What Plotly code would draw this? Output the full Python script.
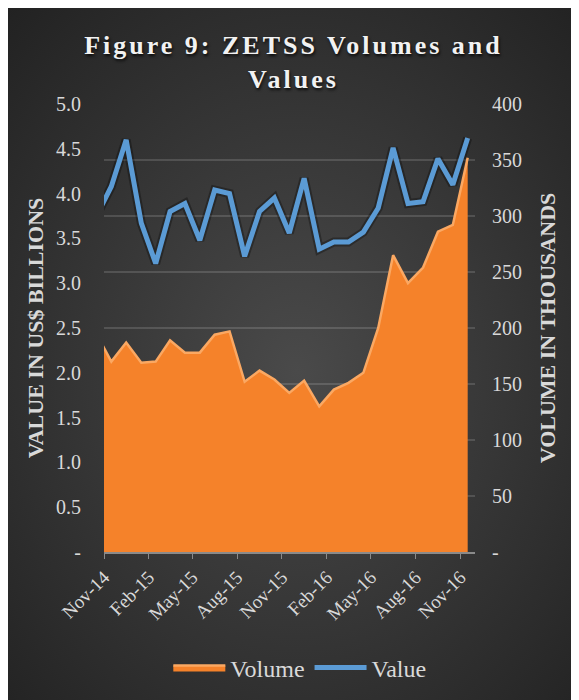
import base64
import plotly.graph_objects as go

# ---------------- data ----------------
months = ["2014-10-01", "2014-11-01", "2014-12-01", "2015-01-01", "2015-02-01", "2015-03-01",
          "2015-04-01", "2015-05-01", "2015-06-01", "2015-07-01", "2015-08-01", "2015-09-01",
          "2015-10-01", "2015-11-01", "2015-12-01", "2016-01-01", "2016-02-01", "2016-03-01",
          "2016-04-01", "2016-05-01", "2016-06-01", "2016-07-01", "2016-08-01", "2016-09-01",
          "2016-10-01", "2016-11-01"]
volume_thousands = [195, 170, 187, 169, 170, 189, 178, 178, 194, 197, 152, 162, 154,
                    142, 153, 130, 145, 151, 160, 200, 265, 240, 254, 286, 292, 352]
value_billions = [3.75, 4.08, 4.60, 3.67, 3.22, 3.80, 3.89, 3.48, 4.04, 4.00, 3.30, 3.80, 3.95,
                  3.56, 4.17, 3.38, 3.46, 3.46, 3.57, 3.84, 4.51, 3.89, 3.91, 4.39, 4.10, 4.62]

x_tick_dates = ["2014-11-01", "2015-02-01", "2015-05-01", "2015-08-01", "2015-11-01",
                "2016-02-01", "2016-05-01", "2016-08-01", "2016-11-01"]
x_tick_labels = ["Nov-14", "Feb-15", "May-15", "Aug-15", "Nov-15",
                 "Feb-16", "May-16", "Aug-16", "Nov-16"]
value_ticks = [0, 0.5, 1.0, 1.5, 2.0, 2.5, 3.0, 3.5, 4.0, 4.5, 5.0]
value_tick_labels = ["-", "0.5", "1.0", "1.5", "2.0", "2.5", "3.0", "3.5", "4.0", "4.5", "5.0"]
volume_ticks = [0, 50, 100, 150, 200, 250, 300, 350, 400]
volume_tick_labels = ["-", "50", "100", "150", "200", "250", "300", "350", "400"]

FONT = "Liberation Serif"
TXT = "#d9d9d9"

fig = go.Figure()

# Volume area (main y axis, on the right)
fig.add_trace(go.Scatter(
    x=months, y=volume_thousands, name="Volume", mode="lines",
    xperiod="M1", xperiodalignment="middle",
    fill="tozeroy", fillcolor="#F5822A",
    line=dict(color="#FBA862", width=2.5),
    yaxis="y", hoverinfo="skip",
))

# Value line shadow (no legend)
fig.add_trace(go.Scatter(
    x=months, y=value_billions, mode="lines", showlegend=False,
    xperiod="M1", xperiodalignment="middle",
    line=dict(color="rgba(0,0,0,0.30)", width=9),
    yaxis="y2", hoverinfo="skip",
))
# Value line
fig.add_trace(go.Scatter(
    x=months, y=value_billions, name="Value", mode="lines",
    xperiod="M1", xperiodalignment="middle",
    line=dict(color="#5B9BD5", width=5),
    yaxis="y2",
))

W, H = 579, 700
L, R, T, B = 96, 112, 96, 156
pw, ph = W - L - R, H - T - B

# background radial gradient covering the whole figure
svg = ('<svg xmlns="http://www.w3.org/2000/svg" width="%d" height="%d">'
       '<defs><radialGradient id="g" cx="50%%" cy="52%%" r="72%%">'
       '<stop offset="0%%" stop-color="#4a4a4a"/>'
       '<stop offset="100%%" stop-color="#222222"/>'
       '</radialGradient></defs>'
       '<rect width="100%%" height="100%%" fill="url(#g)"/></svg>') % (W, H)
bg_src = "data:image/svg+xml;base64," + base64.b64encode(svg.encode()).decode()

fig.update_layout(
    width=W, height=H,
    margin=dict(l=L, r=R, t=T, b=B, autoexpand=False),
    paper_bgcolor="#333333",
    plot_bgcolor="rgba(0,0,0,0)",
    images=[dict(
        source=bg_src, xref="paper", yref="paper",
        x=-L / pw, y=1 + T / ph,
        sizex=W / pw, sizey=H / ph,
        xanchor="left", yanchor="top", sizing="stretch", layer="below",
    )],
    title=dict(
        text='<span style="letter-spacing:3px">Figure 9: ZETSS Volumes and<br>Values</span>',
        x=0.493, xref="container", xanchor="center",
        y=1 - 46 / H, yref="container", yanchor="middle",
        font=dict(family=FONT, size=26, color="#f2f2f2", weight="bold",
                  shadow="1px 2px 3px rgba(0,0,0,0.8)"),
    ),
    font=dict(family=FONT, color=TXT),
    xaxis=dict(
        type="date", automargin=False,
        range=["2014-11-01", "2016-12-01"],
        tickvals=x_tick_dates, ticktext=x_tick_labels,
        tickangle=-45, tickfont=dict(size=19, color=TXT, family=FONT),
        ticks="outside", ticklen=5, tickcolor="#8a8a8a",
        showline=True, linecolor="#8a8a8a", linewidth=1.5,
        showgrid=False, zeroline=False,
    ),
    yaxis=dict(
        side="right", range=[0, 400], automargin=False,
        tickvals=volume_ticks, ticktext=volume_tick_labels,
        tickfont=dict(size=20, color=TXT, family=FONT),
        showgrid=True, gridcolor="rgba(255,255,255,0.14)", gridwidth=1.5,
        zeroline=False, showline=False, ticks="",
        ticklabelstandoff=16,
        title=dict(text="<b>VOLUME IN THOUSANDS</b>", standoff=18,
                   font=dict(size=22, color=TXT, family=FONT)),
    ),
    yaxis2=dict(
        overlaying="y", side="left", range=[0, 5.0], automargin=False,
        tickvals=value_ticks, ticktext=value_tick_labels,
        tickfont=dict(size=20, color=TXT, family=FONT),
        showgrid=False, zeroline=False, showline=False, ticks="",
        ticklabelstandoff=22,
        title=dict(text="<b>VALUE IN US$ BILLIONS</b>", standoff=6,
                   font=dict(size=22, color=TXT, family=FONT)),
    ),
    legend=dict(
        orientation="h", xref="container", yref="container",
        x=0.504, xanchor="center", y=1 - 660 / H, yanchor="middle",
        font=dict(size=24, color=TXT, family=FONT),
        bgcolor="rgba(0,0,0,0)", itemwidth=52,
    ),
    showlegend=True,
)

fig.write_html("out.html")
